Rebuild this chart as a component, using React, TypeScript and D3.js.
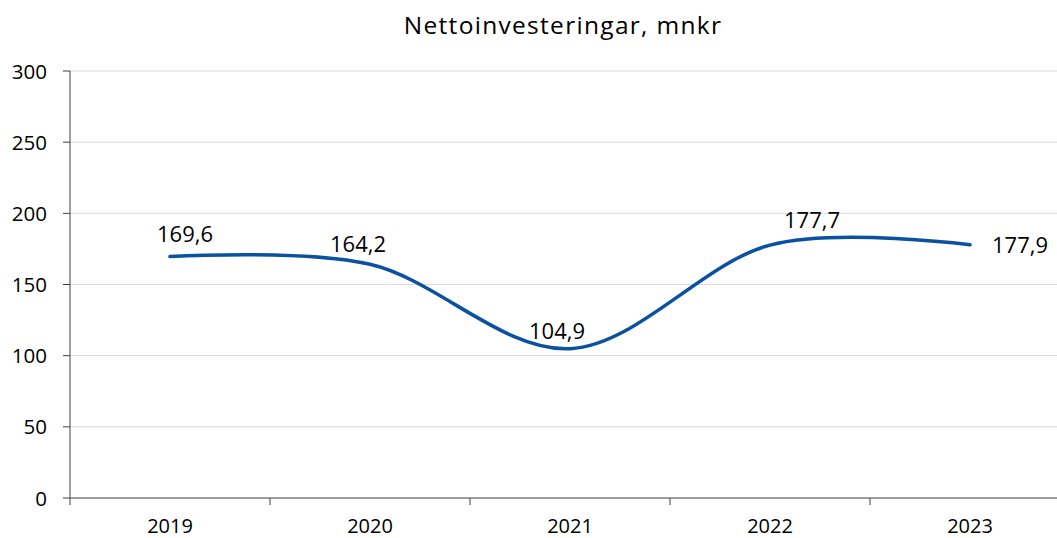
import React from "react";
import * as d3 from "d3";

const categories = ["2019", "2020", "2021", "2022", "2023"];
const values = [169.6, 164.2, 104.9, 177.7, 177.9];
const valueLabels = ["169,6", "164,2", "104,9", "177,7", "177,9"];
const yTicks = [0, 50, 100, 150, 200, 250, 300];
const labelOffsets: [number, number][] = [
  [15, -15],
  [-12, -12],
  [-13, -10],
  [42, -17],
  [50, 8],
];

const W = 1057;
const H = 538;
const left = 70;
const right = 1070;
const top = 71;
const bottom = 498;
const FONT = "'Open Sans', sans-serif";

export default function App() {
  const x = d3.scaleBand<string>().domain(categories).range([left, right]);
  const y = d3.scaleLinear().domain([0, 300]).range([bottom, top]);
  const cx = (c: string) => (x(c) as number) + x.bandwidth() / 2;
  const pts: [number, number][] = categories.map((c, i) => [cx(c), y(values[i])]);
  const line = d3.line().curve(d3.curveCardinal.tension(0))(pts) as string;
  const tickXs = categories.map((c) => x(c) as number);

  return (
    <svg width={W} height={H} style={{ position: "absolute", left: 0, top: 0, background: "#fff" }}>
      <text x={563} y={33.5} textAnchor="middle" fontFamily={FONT} fontSize={24.5} letterSpacing={1.3} fill="#000">
        Nettoinvesteringar, mnkr
      </text>
      {yTicks.map((t) => (
        <g key={t}>
          {t > 0 && <line x1={left} x2={right} y1={y(t)} y2={y(t)} stroke="#d9d9d9" strokeWidth={1} />}
          <line x1={left - 7} x2={left} y1={y(t)} y2={y(t)} stroke="#404040" strokeWidth={1} />
          <text x={47} y={y(t) + 7.5} textAnchor="end" fontFamily={FONT} fontSize={20.5} fill="#000">
            {t}
          </text>
        </g>
      ))}
      <line x1={left} x2={left} y1={top} y2={bottom} stroke="#404040" strokeWidth={1} />
      <line x1={left} x2={right} y1={bottom} y2={bottom} stroke="#404040" strokeWidth={1} />
      {tickXs.map((tx, i) => (
        <line key={i} x1={tx} x2={tx} y1={bottom} y2={bottom + 7} stroke="#404040" strokeWidth={1} />
      ))}
      {categories.map((c) => (
        <text key={c} x={cx(c)} y={533} textAnchor="middle" fontFamily={FONT} fontSize={20} fill="#000">
          {c}
        </text>
      ))}
      <path d={line} fill="none" stroke="#0B51A1" strokeWidth={3.5} strokeLinecap="round" />
      {pts.map((p, i) => (
        <text
          key={i}
          x={p[0] + labelOffsets[i][0]}
          y={p[1] + labelOffsets[i][1]}
          textAnchor="middle"
          fontFamily={FONT}
          fontSize={22}
          fill="#000"
        >
          {valueLabels[i]}
        </text>
      ))}
    </svg>
  );
}
